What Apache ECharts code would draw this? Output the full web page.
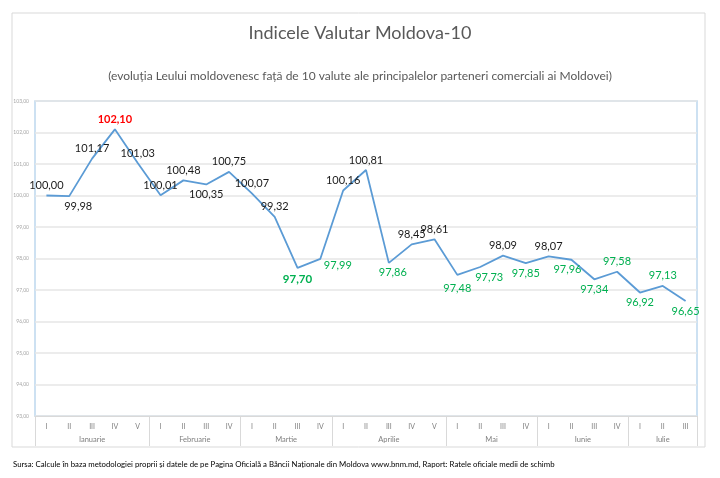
<!DOCTYPE html>
<html lang="ro">
<head>
    <meta charset="UTF-8">
    <title>Indicele Valutar Moldova-10</title>
    <style>
        html, body { margin: 0; padding: 0; background: #fff; }
    </style>
</head>
<body>
    <div id="main" style="width: 720px;height:478px;"></div>
    <script src="https://cdn.jsdelivr.net/npm/echarts@6/dist/echarts.min.js"></script>
    <script>
    // luni si numarul de saptamani din fiecare
    var months = ['Ianuarie', 'Februarie', 'Martie', 'Aprilie', 'Mai', 'Iunie', 'Iulie'];
    var weeksPerMonth = [5, 4, 4, 5, 4, 4, 3];
    var weekNames = ['I', 'II', 'III', 'IV', 'V'];

    // valorile indicelui, pe saptamani
    var values = [
        100.00, 99.98, 101.17, 102.10, 101.03,
        100.01, 100.48, 100.35, 100.75,
        100.07, 99.32, 97.70, 97.99,
        100.16, 100.81, 97.86, 98.45, 98.61,
        97.48, 97.73, 98.09, 97.85,
        98.07, 97.96, 97.34, 97.58,
        96.92, 97.13, 96.65
    ];

    // pozitia etichetelor (stil)
    var labelPos = [
        'top', 'bottom', 'top', 'top', 'top',
        'top', 'top', 'bottom', 'top',
        'top', 'top', 'bottom', 'right',
        'top', 'top', 'bottom', 'top', 'top',
        'bottom', 'bottom', 'top', 'bottom',
        'top', 'bottom', 'bottom', 'top',
        'bottom', 'top', 'bottom'
    ];
    // mici deplasari ale etichetelor, ca in Excel
    var labelShift = { 1: [9, 0], 12: [0, 7], 15: [4, 0], 18: [0, 4], 19: [9, 0], 23: [-4, 0] };
    var redIndex = 3, boldGreenIndex = 11;

    var categories = [];
    var boundaries = [0];
    var centers = [];
    var pos = 0;
    for (var m = 0; m < months.length; m++) {
        for (var w = 0; w < weeksPerMonth[m]; w++) categories.push(weekNames[w]);
        centers.push(pos + weeksPerMonth[m] / 2);
        pos += weeksPerMonth[m];
        boundaries.push(pos);
    }

    function fmt(v) { return v.toFixed(2).replace('.', ','); }

    var seriesData = values.map(function (v, i) {
        var lbl = {
            position: labelPos[i],
            distance: 4,
            color: v < 98 ? '#00b050' : '#1a1a1a'
        };
        if (labelPos[i] === 'right') lbl.distance = 3;
        if (labelShift[i]) lbl.offset = labelShift[i];
        if (i === redIndex) { lbl.color = '#ff0000'; lbl.fontWeight = 'bold'; }
        if (i === boldGreenIndex) { lbl.fontWeight = 'bold'; lbl.fontSize = 11.5; lbl.distance = 5; }
        return { value: v, label: lbl };
    });

    var myChart = echarts.init(document.getElementById('main'));
    var option = {
        animation: false,
        textStyle: { fontFamily: 'Lato' },
        title: [{
            text: 'Indicele Valutar Moldova-10',
            left: 'center',
            top: 19,
            textStyle: { fontSize: 18, fontWeight: 'normal', color: '#595959', fontFamily: 'Lato' }
        }, {
            text: '(evoluția Leului moldovenesc față de 10 valute ale principalelor parteneri comerciali ai Moldovei)',
            left: 'center',
            top: 65,
            textStyle: { fontSize: 12, fontWeight: 'normal', color: '#595959', fontFamily: 'Lato' }
        }, {
            text: 'Sursa: Calcule în baza metodologiei proprii și datele de pe Pagina Oficială a Băncii Naționale din Moldova www.bnm.md, Raport: Ratele oficiale medii de schimb',
            left: 8,
            top: 455,
            textStyle: { fontSize: 7.8, fontWeight: 'normal', color: '#000', fontFamily: 'Lato' }
        }],
        graphic: [{
            type: 'rect',
            shape: { x: 12, y: 13, width: 693, height: 434 },
            style: { fill: null, stroke: '#d9d9d9', lineWidth: 1 },
            z: -1
        }],
        grid: {
            left: 35,
            right: 23,
            top: 101,
            bottom: 62,
            show: true,
            borderColor: '#bdd7ee',
            borderWidth: 1.5
        },
        xAxis: [{
            type: 'category',
            data: categories,
            axisLine: { lineStyle: { color: '#d9d9d9' } },
            axisTick: { show: false },
            axisLabel: { color: '#7f7f7f', fontSize: 7, margin: 7, interval: 0 }
        }, {
            type: 'value',
            min: 0,
            max: values.length,
            position: 'bottom',
            axisLine: { show: false },
            splitLine: { show: false },
            axisTick: {
                show: true,
                customValues: boundaries,
                length: 30,
                lineStyle: { color: '#d9d9d9' }
            },
            axisLabel: {
                customValues: centers,
                color: '#7f7f7f',
                fontSize: 7.5,
                margin: 20,
                formatter: function (v) {
                    for (var k = 0; k < centers.length; k++) {
                        if (Math.abs(centers[k] - v) < 0.01) return months[k];
                    }
                    return '';
                }
            }
        }],
        yAxis: {
            type: 'value',
            min: 93,
            max: 103,
            interval: 1,
            axisLine: { show: false },
            axisTick: { show: false },
            splitLine: { lineStyle: { color: '#e6e6e6', width: 1.5 } },
            axisLabel: { color: '#a6a6a6', fontSize: 5, margin: 6, formatter: fmt }
        },
        series: [{
            type: 'line',
            data: seriesData,
            symbol: 'circle',
            symbolSize: 1,
            showSymbol: true,
            itemStyle: { color: 'rgba(91,155,213,0)' },
            lineStyle: { color: '#5b9bd5', width: 1.8 },
            label: {
                show: true,
                fontSize: 11,
                fontFamily: 'Lato',
                formatter: function (p) { return fmt(p.value); }
            }
        }]
    };
    myChart.setOption(option);
    </script>
</body>
</html>
